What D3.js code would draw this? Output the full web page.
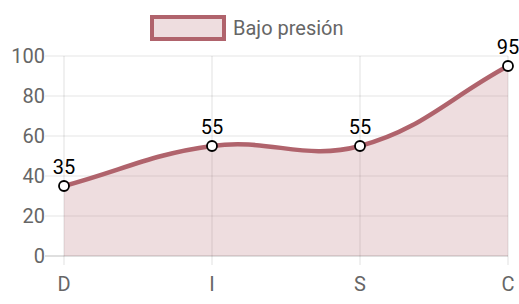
<!DOCTYPE html>
<html>
<head>
<meta charset="utf-8">
<script src="https://cdn.jsdelivr.net/npm/d3@7"></script>
<style>
body{margin:0;background:#fff;}
svg{display:block;font-family:Roboto,"Noto Sans",sans-serif;}
</style>
</head>
<body>
<svg></svg>
<script>
var width=519, height=304;
var categories=['D','I','S','C'];
var values=[35,55,55,95];
var yTicks=[0,20,40,60,80,100];
var seriesName='Bajo presión';

var lineColor='#b0636c';
var fillColor='rgba(176,99,108,0.22)';

var svg=d3.select('svg').attr('width',width).attr('height',height);

var x=d3.scalePoint().domain(categories).range([64,508]);
var y=d3.scaleLinear().domain([0,100]).range([256,56]);

// horizontal grid
svg.append('g').selectAll('line').data(yTicks).enter().append('line')
	.attr('x1',45).attr('x2',508)
	.attr('y1',d=>y(d)).attr('y2',d=>y(d))
	.attr('stroke',d=>d===0?'rgba(0,0,0,0.25)':'rgba(0,0,0,0.1)')
	.attr('stroke-width',1.2);

// vertical grid
svg.append('g').selectAll('line').data(categories).enter().append('line')
	.attr('x1',d=>x(d)).attr('x2',d=>x(d))
	.attr('y1',56).attr('y2',265)
	.attr('stroke','rgba(0,0,0,0.1)')
	.attr('stroke-width',1.2);

svg.append('g').selectAll('text').data(yTicks).enter().append('text')
	.attr('x',45).attr('y',d=>y(d)).attr('dy','0.35em')
	.attr('text-anchor','end').attr('fill','#666').attr('font-size',20)
	.text(d=>d);

svg.append('g').selectAll('text').data(categories).enter().append('text')
	.attr('x',d=>x(d)).attr('y',284).attr('dy','0.35em')
	.attr('text-anchor','middle').attr('fill','#666').attr('font-size',20)
	.text(d=>d);

// chart.js-like spline (tension 0.4)
var pts=values.map((v,i)=>[x(categories[i]),y(v)]);
function controls(p,t){
	var out=[];
	for(var i=0;i<p.length;i++){
		var prev=p[Math.max(0,i-1)], cur=p[i], next=p[Math.min(p.length-1,i+1)];
		var d01=Math.hypot(cur[0]-prev[0],cur[1]-prev[1]);
		var d12=Math.hypot(next[0]-cur[0],next[1]-cur[1]);
		var s01=d01/(d01+d12)||0, s12=d12/(d01+d12)||0;
		var fa=t*s01, fb=t*s12;
		out.push({
			prev:[cur[0]-fa*(next[0]-prev[0]),cur[1]-fa*(next[1]-prev[1])],
			next:[cur[0]+fb*(next[0]-prev[0]),cur[1]+fb*(next[1]-prev[1])]
		});
	}
	return out;
}
var cp=controls(pts,0.4);
function linePath(ctx){
	ctx.moveTo(pts[0][0],pts[0][1]);
	for(var i=1;i<pts.length;i++){
		ctx.bezierCurveTo(cp[i-1].next[0],cp[i-1].next[1],cp[i].prev[0],cp[i].prev[1],pts[i][0],pts[i][1]);
	}
	return ctx;
}
var area=linePath(d3.path());
area.lineTo(pts[pts.length-1][0],y(0));
area.lineTo(pts[0][0],y(0));
area.closePath();
svg.append('path').attr('d',area.toString()).attr('fill',fillColor);
svg.append('path').attr('d',linePath(d3.path()).toString())
	.attr('fill','none').attr('stroke',lineColor).attr('stroke-width',4.5);

svg.append('g').selectAll('circle').data(pts).enter().append('circle')
	.attr('cx',d=>d[0]).attr('cy',d=>d[1]).attr('r',5)
	.attr('fill','#fff').attr('stroke','#000').attr('stroke-width',1.8);

svg.append('g').selectAll('text').data(values).enter().append('text')
	.attr('x',(d,i)=>x(categories[i])).attr('y',d=>y(d)-12)
	.attr('text-anchor','middle').attr('fill','#000').attr('font-size',20)
	.text(d=>d);

// legend
svg.append('rect').attr('x',152).attr('y',17).attr('width',72).attr('height',22)
	.attr('fill',fillColor).attr('stroke',lineColor).attr('stroke-width',4);
svg.append('text').attr('x',233).attr('y',28).attr('dy','0.35em')
	.attr('fill','#666').attr('font-size',20).text(seriesName);
</script>
</body>
</html>
